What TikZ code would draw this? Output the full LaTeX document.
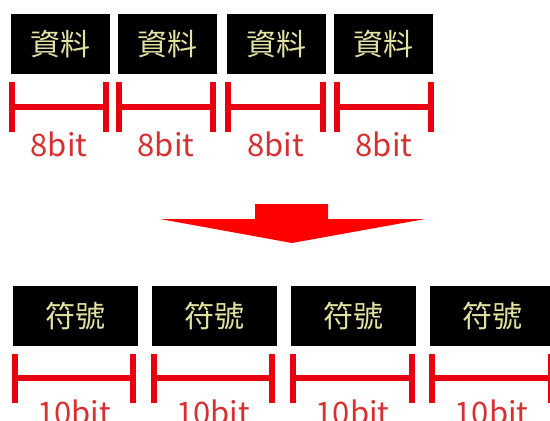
\documentclass[tikz,border=0pt]{standalone}
\usepackage{fontspec}
\setmainfont{Noto Sans CJK TC}
\begin{document}
\begin{tikzpicture}[x=1pt,y=-1pt,
  databox/.style={fill=black,draw=none,inner sep=0pt,text=boxtext,font=\fontsize{30}{30}\selectfont},
  bar/.style={draw=barred,line width=5.5pt},
  bitlabel/.style={text=labred,font=\fontsize{31}{31}\selectfont,inner sep=0pt,anchor=base}]
\definecolor{boxtext}{HTML}{E2E2A2}
\definecolor{barred}{HTML}{E80010}
\definecolor{labred}{HTML}{D83030}
\definecolor{arrowred}{HTML}{FF0000}
\useasboundingbox (0,0) rectangle (550,421);
% top row
\foreach \i/\x/\l/\r in {1/11/12/106,2/118/119/213,3/227/228/323,4/334/337/431}{
  \node[databox,minimum width=99pt,minimum height=60pt,anchor=north west] (d\i) at (\x,14) {資料};
  \coordinate (tl\i) at (\l,107);
  \coordinate (tr\i) at (\r,107);
  \draw[bar] (\l,82) -- (\l,132);
  \draw[bar] (\r,82) -- (\r,132);
  \draw[bar] (tl\i) -- (tr\i);
  \node[bitlabel] (b\i) at ({(\l+\r)/2},156) {8bit};
}
% arrow
\fill[arrowred] (255,204) -- (328,204) -- (328,219) -- (425,219) -- (292,243) -- (160,219) -- (255,219) -- cycle;
% bottom row
\foreach \i/\x/\l/\r in {1/13/15/133,2/152/154/272,3/291/293/412,4/430/432/551}{
  \node[databox,minimum width=125pt,minimum height=60pt,anchor=north west] (s\i) at (\x,286) {符號};
  \coordinate (bl\i) at (\l,378);
  \coordinate (br\i) at (\r,378);
  \draw[bar] (\l,354) -- (\l,403);
  \draw[bar] (\r,354) -- (\r,403);
  \draw[bar] (bl\i) -- (br\i);
  \node[bitlabel] (c\i) at ({(\l+\r)/2},424) {10bit};
}
\end{tikzpicture}
\end{document}
